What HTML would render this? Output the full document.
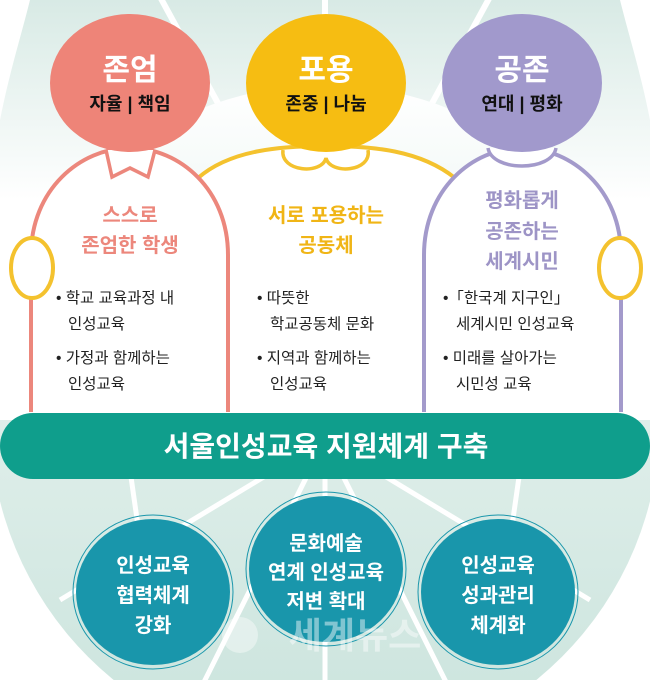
<!DOCTYPE html>
<html><head><meta charset="utf-8"><style>
html,body{margin:0;padding:0;background:#fff;width:650px;height:680px;overflow:hidden}
svg{display:block}
text{font-family:"Liberation Sans","Noto Sans CJK KR",sans-serif;font-weight:bold;text-anchor:middle}
</style></head><body>
<svg width="650" height="680" viewBox="0 0 650 680" xmlns="http://www.w3.org/2000/svg">
<defs>
<linearGradient id="tg" x1="0" y1="0" x2="0" y2="1"><stop offset="0" stop-color="#d8eae5"/><stop offset="1" stop-color="#ffffff"/></linearGradient>
<linearGradient id="bg" x1="0" y1="0" x2="0" y2="1"><stop offset="0" stop-color="#ffffff"/><stop offset="0.35" stop-color="#e6f2ee"/><stop offset="1" stop-color="#c9e3dc"/></linearGradient>
</defs>
<rect width="650" height="680" fill="#fff"/>
<!-- top fan -->
<path d="M0,0 H650 V200 H0 Z" fill="url(#tg)"/>
<g stroke="#fff" stroke-width="6">
<line x1="325" y1="300" x2="140" y2="-40"/><line x1="325" y1="300" x2="325" y2="-40"/><line x1="325" y1="300" x2="510" y2="-40"/>
</g>
<path d="M0,0 L0,120 C10,70 20,40 30,0 Z" fill="#fff"/>
<path d="M650,0 L650,120 C640,70 630,40 620,0 Z" fill="#fff"/>
<!-- bottom fan -->
<circle cx="325" cy="420" r="335" fill="url(#bg)"/>
<g stroke="#fff" stroke-width="5">
<line x1="325" y1="440" x2="60" y2="600"/><line x1="325" y1="440" x2="590" y2="600"/>
<line x1="325" y1="440" x2="200" y2="690"/><line x1="325" y1="440" x2="450" y2="690"/>
<line x1="325" y1="440" x2="325" y2="690"/>
<line x1="130" y1="470" x2="140" y2="540"/><line x1="520" y1="470" x2="510" y2="540"/>
</g>
<!-- white body area -->
<rect x="0" y="200" width="650" height="220" fill="#fff"/>
<!-- yellow shoulders -->
<path d="M198,178 C230,150 280,146 326,146 C372,146 420,150 455,178" fill="#fff" stroke="#f4c22e" stroke-width="4"/>
<rect x="200" y="178" width="255" height="30" fill="#fff"/>
<!-- bodies -->
<path d="M31,412 V255 C31,190 80,148 130,148 C180,148 228,190 228,255 V412" fill="#fff" stroke="#ec877c" stroke-width="4"/>
<path d="M424,412 V255 C424,190 472,148 522,148 C572,148 621,190 621,255 V412" fill="#fff" stroke="#a39acb" stroke-width="4"/>
<!-- hands -->
<ellipse cx="32" cy="268" rx="21" ry="30" fill="#fff" stroke="#f4c22e" stroke-width="4"/>
<ellipse cx="620" cy="268" rx="21" ry="30" fill="#fff" stroke="#f4c22e" stroke-width="4"/>
<!-- collars -->
<path d="M106,150 L112,177 L130,168 L148,177 L155,150" fill="#fff" stroke="#ec877c" stroke-width="3.5"/>
<path d="M283,150 C280,172 322,175 326,158 C330,175 372,172 368,150" fill="#fff" stroke="#f4c22e" stroke-width="3.5"/>
<path d="M488,148 C492,172 552,172 556,148" fill="#fff" stroke="#a39acb" stroke-width="3.5"/>
<!-- heads -->
<ellipse cx="130" cy="83" rx="80" ry="69" fill="#ee8478"/>
<ellipse cx="326" cy="83" rx="80" ry="69" fill="#f6bd12"/>
<ellipse cx="522" cy="83" rx="80" ry="69" fill="#a199cc"/>
<text x="130" y="80" font-size="30" fill="#fff">존엄</text>
<text x="130" y="110" font-size="18" fill="#111">자율 | 책임</text>
<text x="326" y="80" font-size="30" fill="#fff">포용</text>
<text x="326" y="110" font-size="18" fill="#111">존중 | 나눔</text>
<text x="522" y="80" font-size="30" fill="#fff">공존</text>
<text x="522" y="110" font-size="18" fill="#111">연대 | 평화</text>
<!-- body titles -->
<g font-size="20">
<text x="130" y="222" fill="#ec877c">스스로</text>
<text x="130" y="252" fill="#ec877c">존엄한 학생</text>
<text x="326" y="222" fill="#f0b516">서로 포용하는</text>
<text x="326" y="252" fill="#f0b516">공동체</text>
<text x="522" y="207" fill="#9d94c6">평화롭게</text>
<text x="522" y="238" fill="#9d94c6">공존하는</text>
<text x="522" y="268" fill="#9d94c6">세계시민</text>
</g>
<g font-size="15.5" fill="#222">
<text x="56" y="303" style="font-weight:normal;text-anchor:start">• 학교 교육과정 내</text>
<text x="68" y="329" style="font-weight:normal;text-anchor:start">인성교육</text>
<text x="56" y="363" style="font-weight:normal;text-anchor:start">• 가정과 함께하는</text>
<text x="68" y="389" style="font-weight:normal;text-anchor:start">인성교육</text>
<text x="257" y="303" style="font-weight:normal;text-anchor:start">• 따뜻한</text>
<text x="270" y="329" style="font-weight:normal;text-anchor:start">학교공동체 문화</text>
<text x="257" y="363" style="font-weight:normal;text-anchor:start">• 지역과 함께하는</text>
<text x="270" y="389" style="font-weight:normal;text-anchor:start">인성교육</text>
<text x="443" y="303" style="font-weight:normal;text-anchor:start">•「한국계 지구인」</text>
<text x="456" y="329" style="font-weight:normal;text-anchor:start">세계시민 인성교육</text>
<text x="443" y="363" style="font-weight:normal;text-anchor:start">• 미래를 살아가는</text>
<text x="456" y="389" style="font-weight:normal;text-anchor:start">시민성 교육</text>
</g>
<!-- green bar -->
<rect x="0" y="413" width="650" height="66" rx="33" fill="#0f9e8c"/>
<text x="326" y="456" font-size="28" fill="#fff">서울인성교육 지원체계 구축</text>
<!-- bottom circles -->
<g fill="#1996ab" stroke="#1996ab">
<ellipse cx="153" cy="592" rx="77" ry="73" stroke="none"/>
<ellipse cx="153" cy="592" rx="80" ry="77" fill="none" stroke-width="1"/>
<ellipse cx="326" cy="569" rx="77" ry="73" stroke="none"/>
<ellipse cx="326" cy="569" rx="80" ry="77" fill="none" stroke-width="1"/>
<ellipse cx="498" cy="592" rx="77" ry="73" stroke="none"/>
<ellipse cx="498" cy="592" rx="80" ry="77" fill="none" stroke-width="1"/>
</g>
<g font-size="20" fill="#fff">
<text x="153" y="572">인성교육</text><text x="153" y="602">협력체계</text><text x="153" y="632">강화</text>
<text x="326" y="550">문화예술</text><text x="326" y="579">연계 인성교육</text><text x="326" y="608">저변 확대</text>
<text x="498" y="572">인성교육</text><text x="498" y="602">성과관리</text><text x="498" y="632">체계화</text>
</g>
<text x="355" y="648" font-size="36" fill="#ffffff" opacity="0.45">세계뉴스</text>
<circle cx="240" cy="635" r="18" fill="#ffffff" opacity="0.4"/>
</svg>
</body></html>
